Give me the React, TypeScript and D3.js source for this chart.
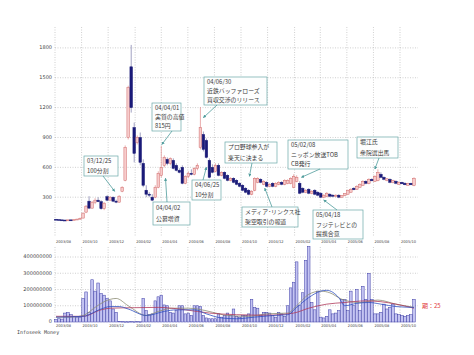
import React from "react";
import * as d3 from "d3";

// weekly candles, 2003/08 .. 2005/10 (split adjusted yen)
const opens = [78, 75, 72, 70, 68, 72, 70, 76, 80, 90, 150, 260, 190, 250, 270, 255, 185, 305, 270, 300, 260, 250, 360, 470, 900, 1610, 1000, 850, 900, 640, 370, 330, 300, 300, 400, 520, 620, 680, 640, 670, 620, 570, 600, 440, 510, 540, 530, 590, 800, 930, 870, 670, 600, 560, 620, 520, 550, 520, 470, 490, 470, 440, 420, 390, 370, 330, 370, 450, 480, 430, 450, 410, 440, 410, 430, 450, 430, 440, 440, 400, 460, 440, 390, 350, 380, 340, 370, 350, 340, 300, 310, 330, 320, 310, 320, 300, 315, 330, 350, 390, 380, 400, 420, 460, 440, 480, 460, 470, 530, 500, 470, 480, 450, 460, 430, 450, 440, 420, 440, 420];
const highs = [82, 80, 76, 74, 74, 76, 78, 82, 95, 145, 220, 310, 260, 290, 300, 270, 250, 320, 310, 305, 275, 320, 410, 820, 1420, 1830, 1050, 920, 950, 680, 420, 350, 330, 420, 560, 815, 720, 700, 700, 690, 640, 590, 620, 520, 560, 580, 600, 640, 1206, 960, 890, 690, 630, 640, 640, 560, 560, 530, 500, 500, 480, 450, 430, 400, 380, 370, 500, 500, 490, 470, 460, 440, 450, 450, 460, 460, 480, 480, 500, 530, 520, 460, 400, 380, 390, 370, 380, 360, 350, 330, 350, 340, 330, 330, 330, 320, 340, 375, 390, 400, 420, 440, 470, 470, 490, 490, 520, 580, 550, 510, 490, 490, 475, 470, 460, 455, 450, 445, 445, 500];
const lows = [70, 70, 68, 66, 65, 68, 68, 72, 78, 88, 140, 180, 185, 230, 250, 175, 170, 260, 265, 250, 240, 245, 350, 460, 880, 1150, 650, 830, 620, 400, 300, 300, 260, 290, 390, 500, 600, 620, 620, 580, 560, 540, 430, 430, 490, 520, 520, 570, 780, 760, 690, 490, 540, 550, 510, 510, 480, 460, 460, 440, 420, 400, 360, 340, 320, 320, 360, 440, 440, 420, 400, 400, 400, 400, 420, 420, 420, 430, 430, 390, 450, 330, 340, 340, 330, 330, 320, 310, 290, 290, 300, 300, 300, 300, 290, 295, 310, 325, 345, 370, 375, 395, 415, 430, 430, 460, 455, 460, 490, 470, 460, 440, 440, 430, 425, 430, 420, 415, 420, 410];
const closes = [75, 72, 70, 68, 72, 70, 76, 80, 88, 140, 210, 190, 250, 270, 255, 185, 240, 270, 300, 260, 250, 310, 400, 800, 1400, 1200, 740, 900, 650, 420, 330, 320, 270, 400, 540, 600, 700, 640, 690, 590, 570, 550, 440, 510, 540, 530, 590, 620, 1000, 780, 700, 500, 550, 620, 520, 550, 490, 470, 490, 450, 430, 410, 370, 350, 330, 360, 490, 490, 450, 460, 410, 430, 410, 440, 450, 430, 470, 470, 490, 510, 500, 340, 350, 370, 340, 360, 330, 320, 300, 320, 340, 310, 310, 320, 300, 315, 335, 370, 380, 375, 410, 430, 460, 440, 480, 465, 510, 550, 500, 480, 485, 450, 470, 440, 450, 435, 425, 440, 425, 490];

// weekly volume, millions of shares
const volumes = [15, 20, 18, 55, 60, 45, 35, 30, 28, 145, 185, 60, 260, 190, 240, 175, 165, 145, 130, 80, 60, 4, 3, 2, 2, 3, 2, 3, 2, 145, 70, 45, 50, 130, 155, 165, 105, 100, 60, 55, 70, 100, 100, 50, 55, 40, 100, 100, 95, 40, 25, 20, 20, 20, 50, 30, 40, 55, 40, 80, 35, 30, 40, 40, 50, 140, 90, 85, 40, 60, 60, 55, 40, 30, 60, 50, 35, 100, 210, 245, 370, 100, 180, 380, 465, 120, 75, 190, 30, 25, 35, 75, 50, 55, 70, 140, 140, 70, 190, 100, 200, 70, 220, 140, 300, 140, 50, 50, 60, 110, 80, 90, 110, 50, 45, 40, 35, 40, 45, 140];

// volume moving averages: [week, millions]
const maGray = [[0, 30], [5, 30], [9, 40], [13, 90], [16, 125], [20, 145], [24, 100], [30, 40], [34, 65], [39, 85], [44, 85], [47, 80], [52, 60], [57, 40], [64, 35], [70, 50], [77, 55], [80, 100], [84, 170], [88, 190], [91, 180], [95, 140], [101, 120], [107, 135], [113, 110], [119, 90]];
const maBlue = [[0, 30], [9, 35], [15, 80], [18, 95], [21, 95], [24, 80], [30, 40], [36, 65], [40, 75], [46, 75], [50, 50], [55, 25], [60, 20], [66, 30], [72, 40], [77, 45], [80, 90], [84, 150], [88, 190], [90, 195], [94, 150], [96, 100], [100, 115], [104, 120], [108, 110], [113, 95], [119, 90]];
const maRed = [[0, 35], [9, 35], [15, 75], [18, 85], [26, 88], [34, 90], [43, 75], [51, 55], [60, 45], [70, 42], [79, 55], [84, 85], [90, 110], [96, 120], [103, 130], [108, 125], [113, 110], [119, 85]];

const monthLabels = ["2003/08", "2003/10", "2003/12", "2004/02", "2004/04", "2004/06", "2004/08", "2004/10", "2004/12", "2005/02", "2005/04", "2005/06", "2005/08", "2005/10"];
const priceTicks = [300, 600, 900, 1200, 1500, 1800];
const volumeTicks = [0, 100, 200, 300, 400];

// event notes: text, and the week/price the arrow points at
const noteTexts = [
  ["03/12/25", "100分割"],
  ["04/04/01", "実質の高値", "815円"],
  ["04/06/30", "近鉄バッファローズ", "買収交渉のリリース"],
  ["プロ野球参入が", "楽天に決まる"],
  ["05/02/08", "ニッポン放送TOB", "CB発行"],
  ["堀江氏", "衆院選出馬"],
  ["04/04/02", "公募増資"],
  ["04/06/25", "10分割"],
  ["メディア･リンクス社", "架空取引の報道"],
  ["05/04/18", "フジテレビとの", "提携合意"],
];
const noteWeeks = [19.5, 35.2, 49, 64.3, 81.6, 106, 36.4, 50, 69.4, 89];
const notePrices = [360, 830, 1100, 510, 500, 583, 490, 600, 390, 272];

// box layout: x, y, w, h, arrow start x, y
const noteBoxes = [
  [84, 156, 34, 20, 103, 176],
  [152, 103, 29, 28, 172, 131],
  [204, 77, 63, 28, 217, 105],
  [225, 142, 52, 21, 252, 163],
  [288, 140, 60, 29, 320, 169],
  [357, 137, 41, 21, 379, 158],
  [153, 202, 37, 23, 167, 202],
  [192, 180, 29, 20, 203, 180],
  [242, 207, 56, 20, 272, 207],
  [313, 210, 50, 29, 337, 210],
];

const parseMonth = d3.timeParse("%Y/%m");
const smallFont = "DejaVu Sans, sans-serif";
const jpFont = "'Noto Sans CJK JP', sans-serif";

export default function App() {
  const n = closes.length;
  const x = d3.scaleLinear().domain([0, n - 1]).range([56, 414]);
  const xt = d3
    .scaleTime()
    .domain([parseMonth("2003/08") as Date, parseMonth("2005/10") as Date])
    .range([55, 400]);
  const y = d3.scaleLinear().domain([-100, 2000]).range([237, 28]);
  const yv = d3.scaleLinear().domain([0, 400]).range([322, 257]);

  const maLine = d3
    .line<number[]>()
    .x((d) => x(d[0]))
    .y((d) => yv(d[1]))
    .curve(d3.curveMonotoneX);

  const bw = 2.6;
  const grid = "#b0b0b0";
  const months = monthLabels.map((m) => xt(parseMonth(m) as Date));

  return (
    <svg
      width={474}
      height={355}
      style={{ position: "absolute", left: 0, top: 0, background: "#fff" }}
    >
      <defs>
        <marker id="arr" viewBox="0 0 6 6" refX="5" refY="3" markerWidth="4" markerHeight="4" orient="auto">
          <path d="M0,0 L6,3 L0,6 z" fill="#4f9c9c" />
        </marker>
      </defs>

      {/* price grid */}
      {priceTicks.map((t) => (
        <g key={"p" + t}>
          <line x1={55} x2={418} y1={y(t)} y2={y(t)} stroke={grid} strokeWidth={0.6} strokeDasharray="1,1.5" />
          <text x={52} y={y(t)} fontSize={5} fontFamily={smallFont} fill="#444" textAnchor="end" dominantBaseline="middle">
            {t}
          </text>
        </g>
      ))}
      {months.map((mx, i) => (
        <g key={"m" + i}>
          <line x1={mx} x2={mx} y1={27} y2={237} stroke={grid} strokeWidth={0.6} strokeDasharray="1,1.5" />
          <line x1={mx} x2={mx} y1={247} y2={322} stroke={grid} strokeWidth={0.6} strokeDasharray="1,1.5" />
          <text x={mx + 1} y={243} fontSize={3.8} fontFamily={smallFont} fill="#444" textLength={15} lengthAdjust="spacingAndGlyphs">
            {monthLabels[i]}
          </text>
          <text x={mx + 1} y={327} fontSize={3.8} fontFamily={smallFont} fill="#444" textLength={15} lengthAdjust="spacingAndGlyphs">
            {monthLabels[i]}
          </text>
        </g>
      ))}

      {/* candles */}
      {closes.map((c, i) => {
        const o = opens[i];
        const up = c >= o;
        const top = y(Math.max(o, c));
        const h = Math.max(0.9, y(Math.min(o, c)) - top);
        return (
          <g key={"c" + i}>
            <line x1={x(i)} x2={x(i)} y1={y(highs[i])} y2={y(lows[i])} stroke={up ? "#e08a8a" : "#7878a8"} strokeWidth={0.7} />
            <rect
              x={x(i) - bw / 2}
              y={top}
              width={bw}
              height={h}
              fill={up ? "#f7cccc" : "#1a1a78"}
              stroke={up ? "#d06a6a" : "#1a1a78"}
              strokeWidth={0.5}
            />
          </g>
        );
      })}

      {/* notes */}
      {noteTexts.map((lines, k) => {
        const [bx, by, bwid, bh, ax, ay] = noteBoxes[k];
        const tx = x(noteWeeks[k]);
        const ty = y(notePrices[k]);
        const lh = bh / lines.length;
        return (
          <g key={"n" + k}>
            <rect x={bx} y={by} width={bwid} height={bh} fill="#fdfefe" stroke="#6aa8a8" strokeWidth={0.7} />
            {lines.map((s, j) => (
              <text
                key={j}
                x={bx + 3}
                y={by + lh * j + lh / 2 + 0.5}
                fontSize={5.9}
                fontFamily={jpFont}
                fill="#3a3a3a"
                dominantBaseline="middle"
              >
                {s}
              </text>
            ))}
            <line x1={ax} y1={ay} x2={tx} y2={ty} stroke="#4f9c9c" strokeWidth={0.8} markerEnd="url(#arr)" />
          </g>
        );
      })}

      {/* volume grid */}
      {volumeTicks.map((t) => (
        <g key={"v" + t}>
          {t > 0 && <line x1={55} x2={418} y1={yv(t)} y2={yv(t)} stroke={grid} strokeWidth={0.6} strokeDasharray="1,1.5" />}
          <text x={52} y={yv(t)} fontSize={5} fontFamily={smallFont} fill="#444" textAnchor="end" dominantBaseline="middle">
            {t === 0 ? "0" : String(t * 1000000)}
          </text>
        </g>
      ))}

      {/* volume bars */}
      {volumes.map((v, i) => (
        <rect
          key={"b" + i}
          x={x(i) - 1.3}
          y={yv(v)}
          width={2.6}
          height={Math.max(0.6, yv(0) - yv(v))}
          fill="#c4c4f2"
          stroke="#3c3ca6"
          strokeWidth={0.5}
        />
      ))}

      <path d={maLine(maGray) || ""} fill="none" stroke="#8c8c74" strokeWidth={0.8} />
      <path d={maLine(maRed) || ""} fill="none" stroke="#b03a5a" strokeWidth={0.8} />
      <path d={maLine(maBlue) || ""} fill="none" stroke="#2f4fc0" strokeWidth={0.8} />

      <text x={422} y={308} fontSize={6} fontFamily={jpFont} fill="#e03a3a">
        期：25
      </text>
      <text x={17} y={334} fontSize={5} fontFamily="DejaVu Sans Mono, monospace" fill="#444">
        Infoseek Money
      </text>
    </svg>
  );
}
